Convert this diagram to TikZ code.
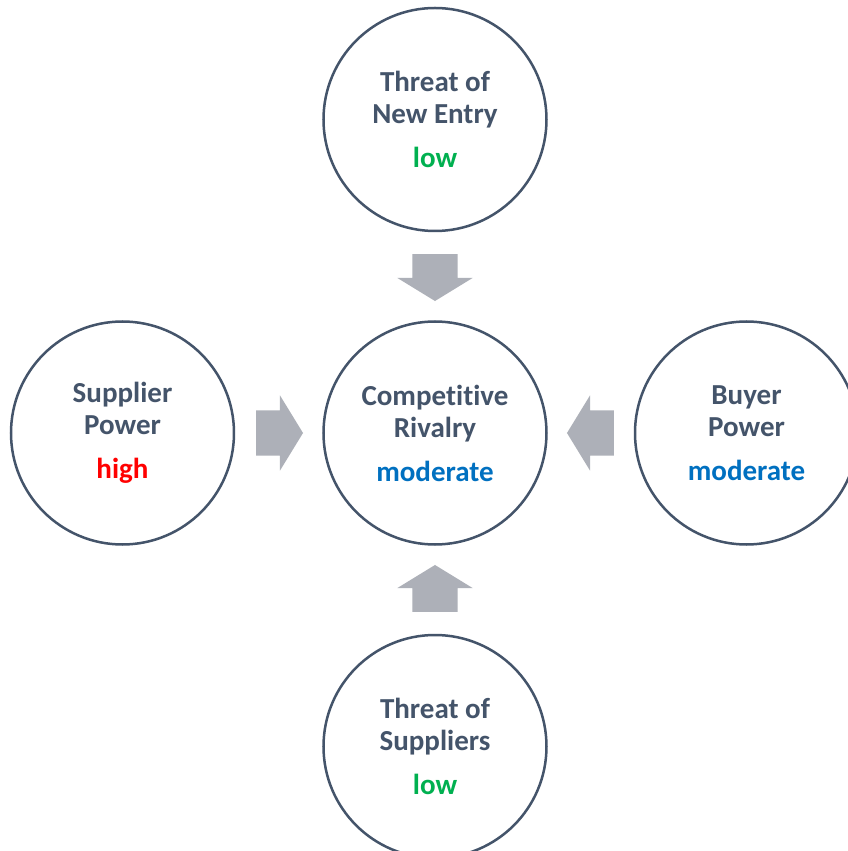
\documentclass[tikz,border=0pt]{standalone}
\usepackage{fontspec}
\setmainfont{Carlito}[Ligatures=NoCommon]
\usepackage{tikz}
\usetikzlibrary{shapes,arrows,positioning}
\definecolor{slate}{HTML}{44546A}
\definecolor{arrowgray}{HTML}{ADB0B8}
\definecolor{lowgreen}{HTML}{00B050}
\definecolor{highred}{HTML}{FF0000}
\definecolor{modblue}{HTML}{0070C0}
\tikzstyle{force} = [circle, draw=slate, line width=2.5pt, fill=white, text=slate, align=center, font=\bfseries\fontsize{29}{32}\selectfont, minimum size=223pt, inner sep=0pt]
\tikzstyle{blockarrow} = [single arrow, fill=arrowgray, draw=none, inner sep=0pt, inner ysep=22.5pt, minimum height=47pt, single arrow head extend=15pt, single arrow tip angle=117]

\begin{document}
\begin{tikzpicture}[auto]

\useasboundingbox[fill=white] (-435pt,-418pt) rectangle (412pt,433pt);

% forces =============================

% centre
\node[force] (rivalry) {Competitive\\Rivalry\\[12pt]\textcolor{modblue}{moderate}};

% around
\node[force, above=88pt of rivalry] (entry) {Threat of\\New Entry\\[12pt]\textcolor{lowgreen}{low}};
\node[force, left=87pt of rivalry] (supplier) {Supplier\\Power\\[12pt]\textcolor{highred}{high}};
\node[force, right=86pt of rivalry] (buyer) {Buyer\\Power\\[12pt]\textcolor{modblue}{moderate}};
\node[force, below=88pt of rivalry] (subst) {Threat of\\Suppliers\\[12pt]\textcolor{lowgreen}{low}};

% arrows into rivalry
\node[blockarrow, rotate=-90, above=19pt of rivalry, anchor=tip] (fromentry) {};
\node[blockarrow, left=19pt of rivalry, anchor=tip] (fromsupplier) {};
\node[blockarrow, rotate=180, right=19pt of rivalry, anchor=tip] (frombuyer) {};
\node[blockarrow, rotate=90, below=19pt of rivalry, anchor=tip] (fromsubst) {};

\end{tikzpicture}
\end{document}
